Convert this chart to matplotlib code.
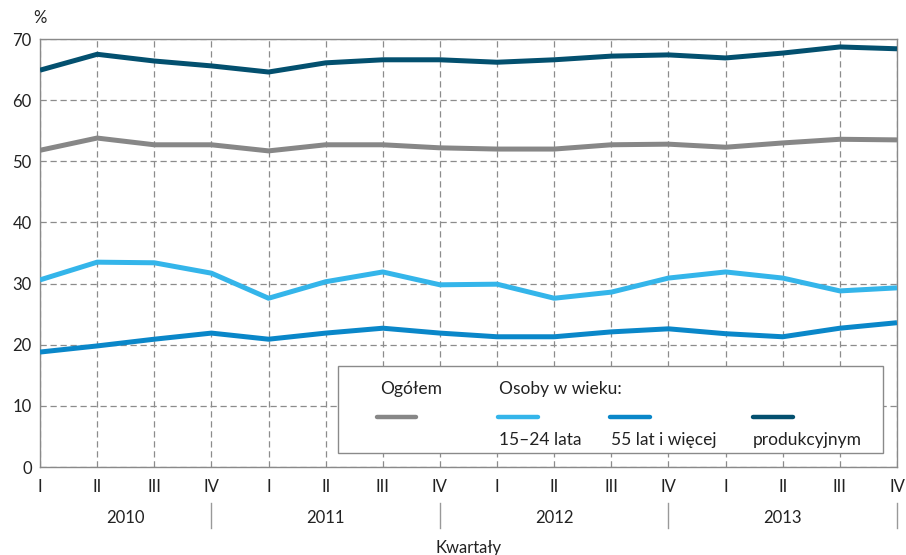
import matplotlib
matplotlib.use("Agg")
import matplotlib.pyplot as plt
from matplotlib.patches import Rectangle
from matplotlib.lines import Line2D

plt.rcParams['font.family'] = ['Lato', 'DejaVu Sans']

quarters = ["I", "II", "III", "IV"] * 4
years = ["2010", "2011", "2012", "2013"]
ogolem = [51.8, 53.8, 52.7, 52.7, 51.7, 52.7, 52.7, 52.2, 52.0, 52.0, 52.7, 52.8, 52.3, 53.0, 53.6, 53.5]
wiek_15_24 = [30.6, 33.5, 33.4, 31.7, 27.6, 30.3, 31.9, 29.8, 29.9, 27.6, 28.6, 30.9, 31.9, 30.9, 28.8, 29.3]
wiek_55 = [18.8, 19.8, 20.9, 21.9, 20.9, 21.9, 22.7, 21.9, 21.3, 21.3, 22.1, 22.6, 21.8, 21.3, 22.7, 23.6]
produkcyjny = [64.9, 67.5, 66.4, 65.6, 64.6, 66.1, 66.6, 66.6, 66.2, 66.6, 67.2, 67.4, 66.9, 67.7, 68.7, 68.4]

c_gray = "#878787"
c_light = "#34b5ea"
c_mid = "#0a87c9"
c_dark = "#03506f"
frame = "#8a8a8a"

fig = plt.figure(figsize=(9.06, 5.55), dpi=100)
ax = fig.add_axes([40/906, 88/555, 857/906, 428/555])

x = list(range(len(quarters)))
lw = 3.6
ax.plot(x, ogolem, color=c_gray, lw=lw, solid_capstyle='butt', zorder=3)
ax.plot(x, wiek_15_24, color=c_light, lw=lw, solid_capstyle='butt', zorder=3)
ax.plot(x, wiek_55, color=c_mid, lw=lw, solid_capstyle='butt', zorder=3)
ax.plot(x, produkcyjny, color=c_dark, lw=lw, solid_capstyle='butt', zorder=3)

ax.set_xlim(0, len(quarters) - 1)
ax.set_ylim(0, 70)
ax.set_yticks(range(0, 71, 10))
ax.set_xticks(x)
ax.set_xticklabels(quarters)
ax.tick_params(axis='both', length=0, labelsize=12, colors="#222222")
ax.tick_params(axis='x', pad=9)
ax.tick_params(axis='y', pad=6)

ax.grid(True, color="#8c8c8c", linestyle=(0, (5, 3)), linewidth=0.9, zorder=1)
for s in ax.spines.values():
    s.set_color(frame)
    s.set_linewidth(1.0)

tr = ax.get_xaxis_transform()
# year separators and labels
seps = [3, 7, 11, 15]
for s in seps:
    ax.plot([s, s], [-0.084, -0.143], transform=tr, color="#999999", lw=1.0, clip_on=False)
bounds = [0] + seps
for i, yr in enumerate(years):
    ax.text((bounds[i] + bounds[i + 1]) / 2, -0.119, yr, transform=tr,
            ha='center', va='center', fontsize=12, color="#222222")
ax.text(0.5, -0.189, "Kwartały", transform=ax.transAxes, ha='center', va='center',
        fontsize=12, color="#222222")
ax.text(0.0, 1.05, "%", transform=ax.transAxes, ha='center', va='center',
        fontsize=12, color="#222222")

# legend box
ax.add_patch(Rectangle((0.3477, 0.0327), 0.636, 0.2033, transform=ax.transAxes,
                       facecolor='white', edgecolor=frame, lw=1.0, zorder=5))
leg_fs = 12.5
ax.text(0.397, 0.182, "Ogółem", transform=ax.transAxes, ha='left', va='center',
        fontsize=leg_fs, color="#222222", zorder=6)
ax.text(0.536, 0.182, "Osoby w wieku:", transform=ax.transAxes, ha='left', va='center',
        fontsize=leg_fs, color="#222222", zorder=6)
items = [(0.393, 0.439, c_gray, None, None),
         (0.534, 0.581, c_light, "15–24 lata", 0.536),
         (0.665, 0.712, c_mid, "55 lat i więcej", 0.666),
         (0.832, 0.879, c_dark, "produkcyjnym", 0.832)]
for x0, x1, col, lab, tx in items:
    ax.add_line(Line2D([x0, x1], [0.117, 0.117], transform=ax.transAxes, color=col,
                       lw=3.2, solid_capstyle='round', zorder=6))
    if lab:
        ax.text(tx, 0.063, lab, transform=ax.transAxes, ha='left', va='center',
                fontsize=leg_fs, color="#222222", zorder=6)

fig.savefig("out.png", dpi=100)
